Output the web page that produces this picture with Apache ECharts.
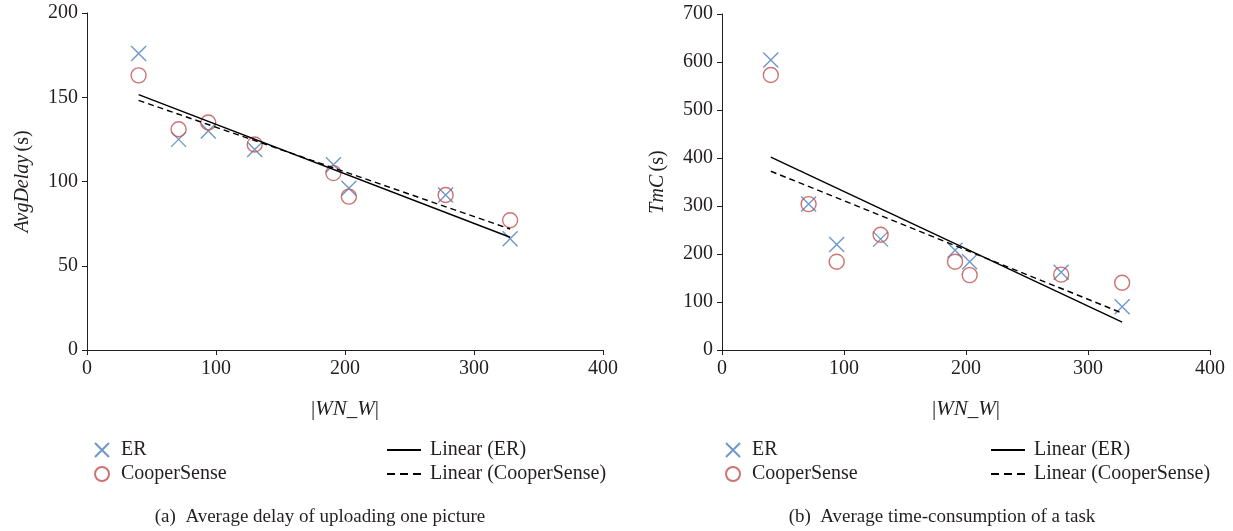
<!DOCTYPE html>
<html>
<head>
<meta charset="utf-8">
<script src="https://cdn.jsdelivr.net/npm/echarts@6/dist/echarts.min.js"></script>
<style>
  html, body { margin: 0; padding: 0; background: #fff; }
  #chart { width: 1233px; height: 531px; }
</style>
</head>
<body>
<div id="chart"></div>
<script>
// |WN_W| values (same for both panels)
const wnw = [40, 71, 94, 130, 191, 203, 278, 328];

// (a) average delay (s)
const delayER = [176, 125, 130, 119, 110, 96, 92, 66];
const delayCooper = [163, 131, 135, 122, 105, 91, 92, 77];

// (b) time consumption (s)
const tmcER = [604, 304, 220, 231, 208, 184, 162, 90];
const tmcCooper = [573, 304, 184, 240, 184, 156, 157, 140];

const captions = ['(a)  Average delay of uploading one picture', '(b)  Average time-consumption of a task'];

const FONT = '"Liberation Serif", "DejaVu Serif", serif';
const INK = '#231f20';
const BLUE = '#4a7ebb';
const RED = '#c0504d';
const CROSS = 'path://M0,0L10,10M10,0L0,10';

function pts(xs, ys) {
  return xs.map((x, i) => [x, ys[i]]);
}

// least squares trend line across the range of the data
function trend(xs, ys) {
  const n = xs.length;
  const mx = xs.reduce((a, b) => a + b, 0) / n;
  const my = ys.reduce((a, b) => a + b, 0) / n;
  let sxy = 0, sxx = 0;
  for (let i = 0; i < n; i++) {
    sxy += (xs[i] - mx) * (ys[i] - my);
    sxx += (xs[i] - mx) * (xs[i] - mx);
  }
  const k = sxy / sxx;
  const x0 = Math.min(...xs), x1 = Math.max(...xs);
  return [[x0, my + k * (x0 - mx)], [x1, my + k * (x1 - mx)]];
}

function xAxis(idx) {
  return {
    gridIndex: idx, type: 'value', min: 0, max: 400, interval: 100,
    name: '{n||}{i|WN_W}{n||}', nameLocation: 'middle', nameGap: 49,
    nameTextStyle: {
      rich: {
        n: { fontFamily: FONT, fontSize: 21, color: INK },
        i: { fontFamily: FONT, fontSize: 21, color: INK, fontStyle: 'italic' }
      }
    },
    axisLine: { show: true, lineStyle: { color: INK, width: 1 } },
    axisTick: { show: true, length: 5, lineStyle: { color: INK } },
    axisLabel: { fontFamily: FONT, fontSize: 20, color: INK, margin: 9 },
    splitLine: { show: false }
  };
}

function yAxis(idx, max, interval, label) {
  return {
    gridIndex: idx, type: 'value', min: 0, max: max, interval: interval,
    name: '{i|' + label + '} {n|(s)}', nameLocation: 'middle', nameGap: 54,
    nameTextStyle: {
      rich: {
        n: { fontFamily: FONT, fontSize: 20, color: INK },
        i: { fontFamily: FONT, fontSize: 20, color: INK, fontStyle: 'italic' }
      }
    },
    axisLine: { show: true, lineStyle: { color: INK, width: 1 } },
    axisTick: { show: true, length: 5, lineStyle: { color: INK } },
    axisLabel: { fontFamily: FONT, fontSize: 20, color: INK, margin: 9 },
    splitLine: { show: false }
  };
}

function panelSeries(idx, er, cooper) {
  return [
    {
      name: 'ER', type: 'scatter', xAxisIndex: idx, yAxisIndex: idx,
      symbol: CROSS, symbolSize: 15,
      itemStyle: { color: 'rgba(0,0,0,0)', borderColor: BLUE, borderWidth: 1.4 },
      data: pts(wnw, er), z: 3
    },
    {
      name: 'CooperSense', type: 'scatter', xAxisIndex: idx, yAxisIndex: idx,
      symbol: 'circle', symbolSize: 15,
      itemStyle: { color: 'rgba(0,0,0,0)', borderColor: RED, borderWidth: 1.4 },
      data: pts(wnw, cooper), z: 3
    },
    {
      name: 'Linear (ER)', type: 'line', xAxisIndex: idx, yAxisIndex: idx,
      symbol: 'none', lineStyle: { color: '#000', width: 1.4 },
      itemStyle: { color: '#000' },
      data: trend(wnw, er), z: 4
    },
    {
      name: 'Linear (CooperSense)', type: 'line', xAxisIndex: idx, yAxisIndex: idx,
      symbol: 'none', lineStyle: { color: '#000', width: 1.4, type: [6, 4] },
      itemStyle: { color: '#000' },
      data: trend(wnw, cooper), z: 4
    }
  ];
}

function legend(names, left, w, pad, hideSymbol) {
  const l = {
    data: names, orient: 'vertical', left: left, top: 435,
    itemWidth: w, itemHeight: 14, itemGap: 4, selectedMode: false,
    textStyle: { fontFamily: FONT, fontSize: 20, color: INK, padding: [0, 0, 0, pad] }
  };
  if (hideSymbol) l.itemStyle = { opacity: 0 };
  return l;
}

const lineNames = ['Linear (ER)', { name: 'Linear (CooperSense)', lineStyle: { type: [8, 5] } }];

const chart = echarts.init(document.getElementById('chart'), null, { renderer: 'canvas' });

chart.setOption({
  animation: false,
  backgroundColor: '#fff',
  title: [
    { text: captions[0], left: 315, top: 503, textAlign: 'center',
      textStyle: { fontFamily: FONT, fontSize: 19, fontWeight: 'normal', color: INK } },
    { text: captions[1], left: 937, top: 503, textAlign: 'center',
      textStyle: { fontFamily: FONT, fontSize: 19, fontWeight: 'normal', color: INK } }
  ],
  grid: [
    { left: 87, top: 13, width: 516, height: 337 },
    { left: 722, top: 14, width: 488, height: 336 }
  ],
  xAxis: [xAxis(0), xAxis(1)],
  yAxis: [yAxis(0, 200, 50, 'AvgDelay'), yAxis(1, 700, 100, 'TmC')],
  legend: [
    legend(['ER', 'CooperSense'], 89, 14, 7, false),
    legend(lineNames, 381, 34, 4, true),
    legend(['ER', 'CooperSense'], 720, 14, 7, false),
    legend(lineNames, 985, 34, 4, true)
  ],
  series: panelSeries(0, delayER, delayCooper).concat(panelSeries(1, tmcER, tmcCooper))
});
</script>
</body>
</html>
